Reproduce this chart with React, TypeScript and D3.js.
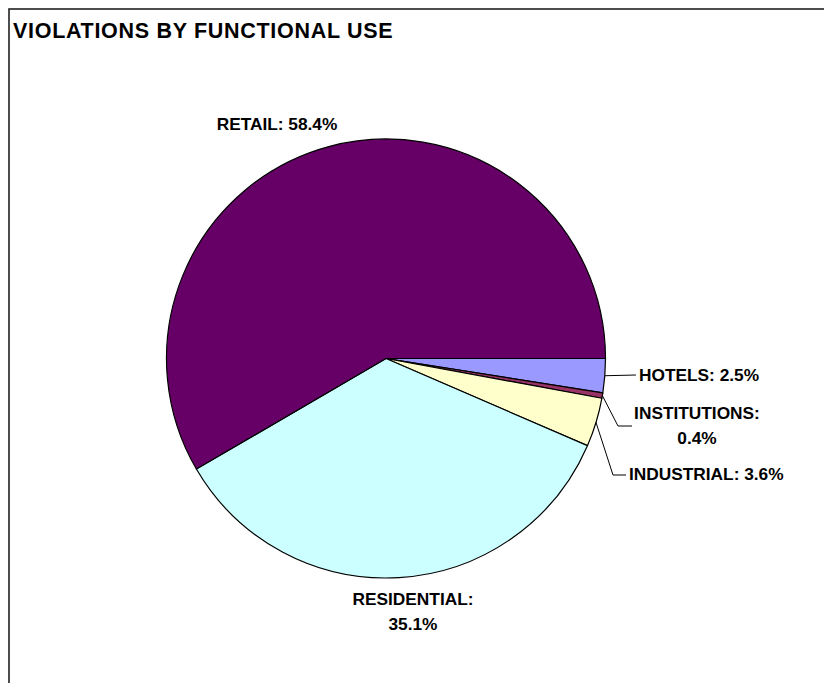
import React from "react";
import * as d3 from "d3";

const categories = ["HOTELS", "INSTITUTIONS", "INDUSTRIAL", "RESIDENTIAL", "RETAIL"];
const values = [2.5, 0.4, 3.6, 35.1, 58.4];
const colors = ["#9999FF", "#993366", "#FFFFCC", "#CCFFFF", "#660066"];
const title = "VIOLATIONS BY FUNCTIONAL USE";

// label layout (text placement only)
const labelLayout: Record<string, { lines: string[]; x: number; y: number; anchor: string; leader?: [number, number][] }> = {
  HOTELS: { lines: ["HOTELS: 2.5%"], x: 639, y: 381, anchor: "start", leader: [[636, 375]] },
  INSTITUTIONS: { lines: ["INSTITUTIONS:", "0.4%"], x: 697, y: 419, anchor: "middle", leader: [[618, 426], [632, 426]] },
  INDUSTRIAL: { lines: ["INDUSTRIAL: 3.6%"], x: 629, y: 480, anchor: "start", leader: [[613, 475], [626, 475]] },
  RESIDENTIAL: { lines: ["RESIDENTIAL:", "35.1%"], x: 413, y: 605, anchor: "middle" },
  RETAIL: { lines: ["RETAIL: 58.4%"], x: 277, y: 130, anchor: "middle" },
};

export default function App() {
  const W = 824, H = 683;
  const cx = 386, cy = 358.5, r = 219.5;
  const data = categories.map((c, i) => ({ name: c, value: values[i], color: colors[i] }));
  const pie = d3.pie<any>().value((d) => d.value).sort(null)
    .startAngle(Math.PI / 2).endAngle(Math.PI / 2 + 2 * Math.PI);
  const arcs = pie(data);
  const arc = d3.arc<any>().innerRadius(0).outerRadius(r);
  const font = "'Liberation Sans', Arial, sans-serif";
  return (
    <svg width={W} height={H} style={{ position: "absolute", left: 0, top: 0 }}>
      <rect x={0} y={0} width={W} height={H} fill="#fff" />
      <rect x={9} y={9} width={1000} height={1000} fill="none" stroke="#222" strokeWidth={1.6} />
      <text x={13} y={38} fontFamily={font} fontWeight="bold" fontSize={21.5} letterSpacing={0.7} fill="#000">{title}</text>
      <g transform={`translate(${cx},${cy})`}>
        {arcs.map((a, i) => (
          <path key={i} d={arc(a) as string} fill={a.data.color} stroke="#000" strokeWidth={1.2} strokeLinejoin="round" />
        ))}
      </g>
      {arcs.map((a, i) => {
        const L = labelLayout[a.data.name];
        const mid = (a.startAngle + a.endAngle) / 2;
        const sx = cx + r * Math.sin(mid), sy = cy - r * Math.cos(mid);
        const pts: [number, number][] = L.leader ? [[sx, sy], ...L.leader] : [];
        return (
          <g key={"l" + i}>
            {L.leader && (
              <path d={d3.line()(pts) as string} fill="none" stroke="#000" strokeWidth={1} />
            )}
            <text x={L.x} y={L.y} textAnchor={L.anchor} fontFamily={font} fontWeight="bold" fontSize={17.3} fill="#000">
              {L.lines.map((ln, j) => (
                <tspan key={j} x={L.x} dy={j === 0 ? 0 : 25}>{ln}</tspan>
              ))}
            </text>
          </g>
        );
      })}
    </svg>
  );
}
